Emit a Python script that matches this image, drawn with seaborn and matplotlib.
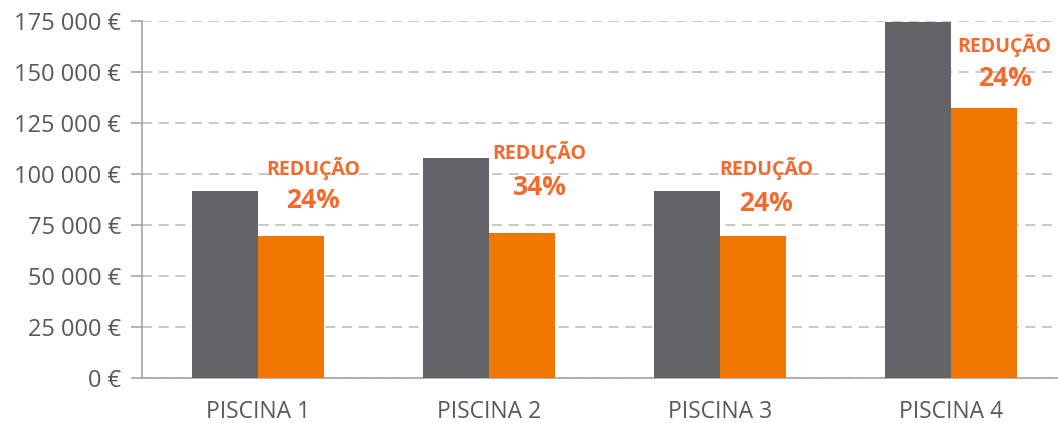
#!/usr/bin/env python3

import seaborn as sns
import pandas as pd
import matplotlib.pyplot as plt
from matplotlib.ticker import FuncFormatter

piscinas = ["PISCINA 1", "PISCINA 2", "PISCINA 3", "PISCINA 4"]
custo_atual = [91600, 107800, 91600, 174400]
custo_novo = [69600, 71000, 69600, 132300]
reducao = ["24%", "34%", "24%", "24%"]

# where the "REDUÇÃO" notes sit (x offset from category centre, y in euros)
nota_dx = [0.24, 0.22, 0.20, 0.23]
nota_y = [102900, 110700, 102900, 163200]
pct_y = [87200, 93600, 85700, 147000]

df = pd.DataFrame({
    "piscina": piscinas * 2,
    "custo": custo_atual + custo_novo,
    "serie": ["atual"] * 4 + ["novo"] * 4,
})

sns.set_style("white")
plt.rcParams['font.family'] = ['Open Sans', 'DejaVu Sans']

fig = plt.figure(figsize=(10.58, 4.23), dpi=100)
ax = fig.add_axes([142 / 1058, 45 / 423, 925 / 1058, 357 / 423])

sns.barplot(data=df, x="piscina", y="custo", hue="serie",
            palette={"atual": "#636468", "novo": "#F07800"},
            width=0.57, gap=0, saturation=1, legend=False, ax=ax,
            linewidth=0, zorder=3)

ax.set_ylim(0, 175000)
ax.set_xlim(-0.5, 3.5)
ax.set_yticks(range(0, 175001, 25000))
ax.yaxis.set_major_formatter(FuncFormatter(lambda v, p: f"{int(v):,} €".replace(",", " ")))
ax.grid(axis="y", color="#BFBFBF", linestyle=(0, (6, 4)), linewidth=1.2, zorder=0)
ax.set_axisbelow(True)

for s in ["top", "right"]:
    ax.spines[s].set_visible(False)
for s in ["left", "bottom"]:
    ax.spines[s].set_color("#A6A6A6")
    ax.spines[s].set_linewidth(1.2)

ax.set_xticks([-0.5, 0.5, 1.5, 2.5, 3.5], minor=True)
ax.tick_params(axis="x", which="major", length=0, pad=16, labelsize=16.5, labelcolor="#595959")
ax.tick_params(axis="x", which="minor", length=8, width=1.2, color="#A6A6A6", direction="out")
ax.tick_params(axis="y", length=8, width=1.2, color="#A6A6A6", left=True,
               labelsize=17, labelcolor="#595959", pad=7)
ax.set_xlabel("")
ax.set_ylabel("")

for i in range(len(piscinas)):
    ax.text(i + nota_dx[i], nota_y[i], "REDUÇÃO", ha="center", va="center",
            fontsize=14, fontweight="bold", color="#F26A2E", zorder=5)
    ax.text(i + nota_dx[i], pct_y[i], reducao[i], ha="center", va="center",
            fontsize=19, fontweight="bold", color="#F26A2E", zorder=5)

plt.savefig("out.png", dpi=100)
